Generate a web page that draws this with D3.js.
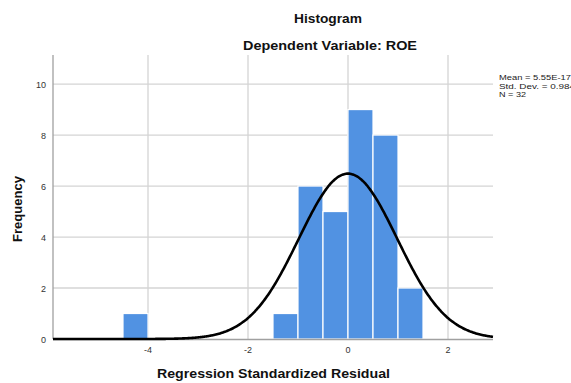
<!DOCTYPE html>
<html><head><meta charset="utf-8">
<script src="https://cdn.jsdelivr.net/npm/d3@7"></script>
<style>body{margin:0;background:#fff}svg{display:block;font-family:"Liberation Sans",Arial,sans-serif}</style>
</head><body><svg id="c" width="571" height="383"></svg>
<script>
const binStarts = [-4.5, -1.5, -1.0, -0.5, 0.0, 0.5, 1.0];
const binCounts = [1, 1, 6, 5, 9, 8, 2];
const binWidth = 0.5;
const xTicks = [-4, -2, 0, 2];
const yTicks = [0, 2, 4, 6, 8, 10];
const stats = ["Mean = 5.55E-17", "Std. Dev. = 0.984", "N = 32"];
const mean = 5.55e-17, sd = 0.984, n = 32;

const svg = d3.select("#c");
const x = d3.scaleLinear().domain([-5.9, 2.9]).range([53, 493]);
const y = d3.scaleLinear().domain([0, 11.14]).range([339, 55]);

// gridlines
svg.append("g").selectAll("line").data(yTicks.filter(d=>d>0)).join("line")
  .attr("x1", 53).attr("x2", 493).attr("y1", d=>y(d)).attr("y2", d=>y(d))
  .attr("stroke", "#d4d4d4").attr("stroke-width", 1.3);
svg.append("g").selectAll("line").data(xTicks).join("line")
  .attr("x1", d=>x(d)).attr("x2", d=>x(d)).attr("y1", 55).attr("y2", 339)
  .attr("stroke", "#d4d4d4").attr("stroke-width", 1.3);

// bars
svg.append("g").selectAll("rect").data(binStarts).join("rect")
  .attr("x", d=>x(d)).attr("width", d=>x(d+binWidth)-x(d))
  .attr("y", (d,i)=>y(binCounts[i])).attr("height", (d,i)=>y(0)-y(binCounts[i]))
  .attr("fill", "#5192e2").attr("stroke", "#ffffff").attr("stroke-width", 1.2);

// axes lines
svg.append("line").attr("x1",53).attr("x2",53).attr("y1",55).attr("y2",339)
  .attr("stroke","#a0a0a0").attr("stroke-width",1.3);
svg.append("line").attr("x1",53).attr("x2",493).attr("y1",339.5).attr("y2",339.5)
  .attr("stroke","#a0a0a0").attr("stroke-width",1.3);

// normal curve
const pts = d3.range(-5.9, 2.9001, 0.02).map(v=>[v, n*binWidth/(sd*Math.sqrt(2*Math.PI))*Math.exp(-0.5*((v-mean)/sd)**2)]);
svg.append("path").datum(pts)
  .attr("d", d3.line().x(d=>x(d[0])).y(d=>y(d[1])).curve(d3.curveBasis))
  .attr("fill","none").attr("stroke","#000").attr("stroke-width",2.6);

// tick labels
svg.append("g").selectAll("text").data(yTicks).join("text")
  .attr("x", 46).attr("y", d=>y(d)+3.5).attr("text-anchor","end")
  .attr("font-size", 9).attr("fill","#333").text(d=>d);
svg.append("g").selectAll("text").data(xTicks).join("text")
  .attr("x", d=>x(d)).attr("y", 353).attr("text-anchor","middle")
  .attr("font-size", 9).attr("fill","#333").text(d=>d);

// titles
svg.append("text").attr("x", 328).attr("y", 23).attr("text-anchor","middle")
  .attr("font-size", 12.5).attr("font-weight","bold").attr("fill","#111")
  .attr("textLength", 68).attr("lengthAdjust","spacingAndGlyphs").text("Histogram");
svg.append("text").attr("x", 330).attr("y", 50).attr("text-anchor","middle")
  .attr("font-size", 12.5).attr("font-weight","bold").attr("fill","#111")
  .attr("textLength", 174).attr("lengthAdjust","spacingAndGlyphs").text("Dependent Variable: ROE");
svg.append("text").attr("x", 273.5).attr("y", 378).attr("text-anchor","middle")
  .attr("font-size", 13).attr("font-weight","bold").attr("fill","#111")
  .attr("textLength", 233).attr("lengthAdjust","spacingAndGlyphs").text("Regression Standardized Residual");
svg.append("text").attr("transform","translate(22,209) rotate(-90)").attr("text-anchor","middle")
  .attr("font-size", 13).attr("font-weight","bold").attr("fill","#111").text("Frequency");

// stats
svg.append("g").selectAll("text").data(stats).join("text")
  .attr("x", 499).attr("y", (d,i)=>80+i*8.6).attr("font-size", 8.1)
  .attr("textLength", (d,i)=>[72, 76, 27][i]).attr("lengthAdjust","spacingAndGlyphs")
  .attr("fill","#222").text(d=>d);
</script></body></html>
